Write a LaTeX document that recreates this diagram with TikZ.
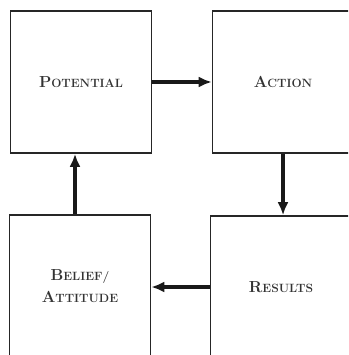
\documentclass[tikz,border=0pt]{standalone}
\usetikzlibrary{arrows.meta}
\newcommand{\mysc}[2]{{\bfseries\fontsize{16}{19}\selectfont #1}{\bfseries\fontsize{12}{19}\selectfont #2}}
\begin{document}
\begin{tikzpicture}[x=1pt,y=-1pt,
  box/.style={draw=black!85,line width=1.6pt,minimum width=141pt,minimum height=142pt,inner sep=0pt,align=center,
    text=black!80},
  arr/.style={line width=4.5pt,draw=black!90,-{Latex[length=13pt,width=11pt]}}]
\useasboundingbox (0,0) rectangle (348,355);
\clip (0,0) rectangle (348,355);
\node[box] (pot) at (81,82) {\mysc{P}{OTENTIAL}};
\node[box] (act) at (283,82) {\mysc{A}{CTION}};
\node[box] (bel) at (80,286) {\mysc{B}{ELIEF/}\\[7pt]\mysc{A}{TTITUDE}};
\node[box] (res) at (281,287) {\mysc{R}{ESULTS}};
\draw[arr] (pot.east) -- (act.west);
\draw[arr] (act.south) -- (act.south |- res.north);
\draw[arr] (res.west) -- (res.west -| bel.east);
\draw[arr] ([xshift=-5pt]bel.north) -- ([xshift=-5pt]bel.north |- pot.south);
\end{tikzpicture}
\end{document}
